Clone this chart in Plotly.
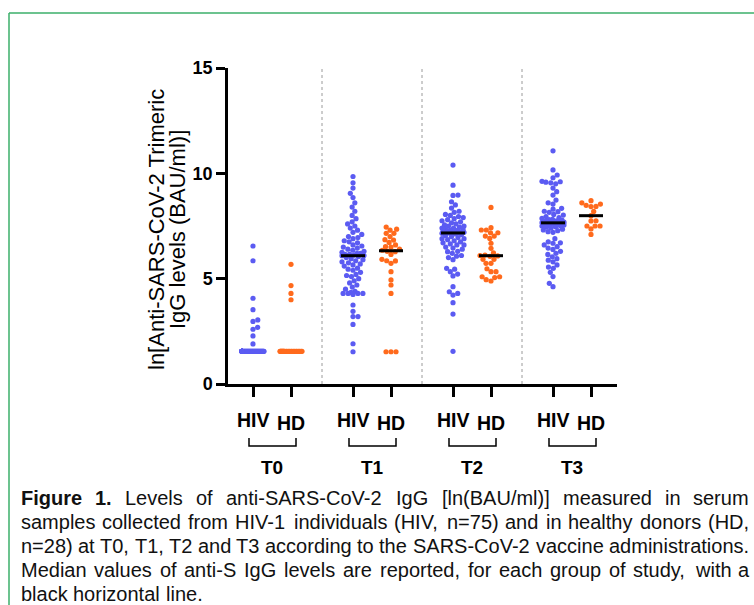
import math
import numpy as np
import plotly.graph_objects as go

# ---------------- data ----------------
timepoints = ["T0", "T1", "T2", "T3"]
groups = ["HIV", "HD"]

T0_HIV = [6.55, 5.85, 4.07, 3.53, 3.04, 2.97, 2.69, 2.6, 2.28, 1.9] + [1.55] * 65
T0_HD = [5.68, 4.67, 4.3, 4.0] + [1.55] * 24
T1_HIV = [9.85, 9.55, 9.3, 9.05, 8.85, 8.6, 8.4, 8.2, 8.0, 7.85, 7.7, 7.6, 7.5, 7.4, 7.3,
          7.2, 7.1, 7.0, 6.95, 6.9, 6.8, 6.75, 6.7, 6.6, 6.55, 6.5, 6.45, 6.4, 6.35, 6.3,
          6.25, 6.2, 6.2, 6.15, 6.15, 6.12, 6.1, 6.09,
          6.05, 6.0, 5.95, 5.9, 5.85, 5.8, 5.75, 5.7, 5.65, 5.6, 5.5, 5.45, 5.4, 5.3, 5.2,
          5.15, 5.1, 5.0, 4.9, 4.8, 4.7, 4.6, 4.5, 4.4, 4.35, 4.3, 4.3, 4.3, 4.3, 4.25,
          3.75, 3.45, 3.2, 3.2, 2.83, 1.91, 1.53]
T1_HD = [7.45, 7.35, 7.3, 7.15, 7.15, 7.0, 6.85, 6.83, 6.72, 6.6, 6.52, 6.5, 6.4, 6.35,
         6.3, 6.28, 6.15, 5.92, 5.85, 5.84, 5.73, 5.33, 4.94, 4.7, 4.3, 1.53, 1.53, 1.53]
T2_HIV = [10.39, 9.44, 8.97, 8.95, 8.65, 8.5, 8.35, 8.2, 8.15, 8.05, 8.0, 7.95, 7.9, 7.85,
          7.8, 7.75, 7.7, 7.65, 7.6, 7.55, 7.5, 7.5, 7.45, 7.4, 7.4, 7.35, 7.35, 7.3, 7.3,
          7.28, 7.25, 7.25, 7.22, 7.2, 7.2, 7.19, 7.18, 7.17,
          7.15, 7.12, 7.1, 7.05, 7.0, 6.95, 6.9, 6.9, 6.85, 6.8, 6.75, 6.7, 6.65, 6.6, 6.6,
          6.5, 6.45, 6.4, 6.3, 6.28, 6.2, 6.1, 6.07, 6.0, 5.9, 5.49, 5.45, 5.33, 5.22, 5.13,
          4.62, 4.38, 4.3, 4.22, 3.86, 3.32, 1.55]
T2_HD = [8.38, 7.42, 7.31, 7.31, 7.18, 7.18, 7.02, 7.02, 6.91, 6.68, 6.44, 6.23, 6.12, 6.1,
         6.08, 6.06, 5.92, 5.92, 5.73, 5.73, 5.47, 5.33, 5.33, 5.09, 5.09, 5.05, 4.95, 4.89]
T3_HIV = [11.07, 10.16, 9.92, 9.79, 9.62, 9.6, 9.58, 9.55, 9.5, 9.3, 9.13, 8.97, 8.73, 8.6,
          8.54, 8.34, 8.3, 8.2, 8.18, 8.15, 8.05, 8.02, 7.95, 7.9, 7.86, 7.82, 7.8, 7.78,
          7.75, 7.73, 7.72, 7.7, 7.7, 7.68, 7.68, 7.67, 7.66, 7.65,
          7.64, 7.62, 7.6, 7.58, 7.55, 7.52, 7.5, 7.47, 7.45, 7.4, 7.35, 7.31, 7.28, 7.23,
          7.2, 6.9, 6.75, 6.7, 6.68, 6.6, 6.52, 6.45, 6.39, 6.3, 6.2, 6.15, 6.04, 5.95, 5.88,
          5.8, 5.65, 5.55, 5.49, 5.3, 5.1, 4.78, 4.62]
T3_HD = [8.7, 8.6, 8.54, 8.48, 8.43, 8.42, 8.19, 7.99, 7.75, 7.74, 7.5, 7.5, 7.5, 7.36, 7.1]

series = {
    ("T0", "HIV"): T0_HIV, ("T0", "HD"): T0_HD,
    ("T1", "HIV"): T1_HIV, ("T1", "HD"): T1_HD,
    ("T2", "HIV"): T2_HIV, ("T2", "HD"): T2_HD,
    ("T3", "HIV"): T3_HIV, ("T3", "HD"): T3_HD,
}

y_ticks = [0, 5, 10, 15]
y_title_lines = ["ln[Anti-SARS-CoV-2 Trimeric", "IgG levels (BAU/ml)]"]
caption_bold = "Figure 1."
caption_lines = [
    "Figure 1. Levels of anti-SARS-CoV-2 IgG [ln(BAU/ml)] measured in serum",
    "samples collected from HIV-1 individuals (HIV, n=75) and in healthy donors (HD,",
    "n=28) at T0, T1, T2 and T3 according to the SARS-CoV-2 vaccine administrations.",
    "Median values of anti-S IgG levels are reported, for each group of study, with a",
    "black horizontal line.",
]

# ---------------- layout constants ----------------
W, H = 754, 605
L, R, T, B = 228, 617, 68, 384          # plot area pixels
colors = {"HIV": "#5B5BF2", "HD": "#FF6A1C"}
group_offset = {"HIV": 0.0, "HD": 0.38}
x_range = [-0.25, 3.64]
ppx = (R - L) / (x_range[1] - x_range[0])
ppy = (B - T) / 15.0
FONT = "Liberation Sans, Arial, sans-serif"

# Arial / Liberation Sans advance widths (per 1000 em) for caption justification
_REG = dict(zip("abcdefghijklmnopqrstuvwxyz",
                [556, 556, 500, 556, 556, 278, 556, 556, 222, 222, 500, 222, 833, 556, 556,
                 556, 556, 333, 500, 278, 556, 500, 722, 500, 500, 500]))
_REG.update(zip("ABCDEFGHIJKLMNOPQRSTUVWXYZ",
                [667, 667, 722, 722, 667, 611, 778, 722, 278, 500, 667, 556, 833, 722, 778,
                 667, 778, 722, 667, 611, 722, 667, 944, 667, 667, 611]))
_REG.update({c: 556 for c in "0123456789"})
_REG.update({" ": 278, ".": 278, ",": 278, "-": 333, "(": 333, ")": 333, "[": 278,
             "]": 278, "/": 278, "=": 584})
_BOLD = dict(_REG)
_BOLD.update({"F": 611, "i": 278, "g": 611, "u": 611, "r": 389, "e": 556, "1": 556, ".": 278})


def tw(s, size, bold=False):
    tab = _BOLD if bold else _REG
    return sum(tab.get(c, 556) for c in s) / 1000.0 * size


def pxx(p):
    return (p - L) / (R - L)


def pxy(p):
    return (B - p) / (B - T)


def swarm(vals, d=5.0, cap=11.0):
    """beeswarm offsets in pixels, capped in width"""
    order = sorted(range(len(vals)), key=lambda i: vals[i])
    placed = []
    xs = [0.0] * len(vals)
    flip = 1
    for i in order:
        y = vals[i] * ppy
        near = [(px, py) for px, py in placed if abs(y - py) < d]
        cands = {0.0}
        for px, py in near:
            dx = math.sqrt(max(d * d - (y - py) ** 2, 0.0))
            cands.add(px + dx)
            cands.add(px - dx)
        cands = sorted(cands, key=lambda c: (round(abs(c), 3), -flip * c))
        best = None
        for c in cands:
            if abs(c) > cap + 1e-9:
                continue
            if all((c - px) ** 2 + (y - py) ** 2 >= d * d - 1e-6 for px, py in near):
                best = c
                break
        if best is None:
            grid = np.linspace(-cap, cap, 45)
            best = max(grid, key=lambda c: min(math.hypot(c - px, y - py) for px, py in near))
        flip = -flip
        placed.append((best, y))
        xs[i] = best
    return xs


fig = go.Figure()

# separators
for k in range(len(timepoints) - 1):
    xs = k + 0.69
    fig.add_shape(type="line", x0=xs, x1=xs, y0=0, y1=15, xref="x", yref="y",
                  line=dict(color="#9a9a9a", width=1, dash="dot"), layer="below")

for ti, tp in enumerate(timepoints):
    for g in groups:
        vals = series[(tp, g)]
        pos = ti + group_offset[g]
        offs = swarm(vals)
        fig.add_trace(go.Scatter(
            x=[pos + o / ppx for o in offs], y=vals, mode="markers",
            marker=dict(color=colors[g], size=5.2, line=dict(width=0)),
            showlegend=False, hoverinfo="y"))
for ti, tp in enumerate(timepoints):
    if ti == 0:
        continue
    for g in groups:
        vals = series[(tp, g)]
        pos = ti + group_offset[g]
        med = float(np.median(vals))
        fig.add_trace(go.Scatter(
            x=[pos - 0.12, pos + 0.12], y=[med, med], mode="lines",
            line=dict(color="black", width=3), showlegend=False, hoverinfo="skip"))

# category labels, brackets, timepoint labels
for ti, tp in enumerate(timepoints):
    xh = ti + group_offset["HIV"]
    xd = ti + group_offset["HD"]
    fig.add_annotation(x=xh, y=pxy(420), xref="x", yref="paper", text="<b>HIV</b>",
                       showarrow=False, yanchor="middle",
                       font=dict(size=19.5, color="black", family=FONT))
    fig.add_annotation(x=xd, y=pxy(423), xref="x", yref="paper", text="<b>HD</b>",
                       showarrow=False, yanchor="middle",
                       font=dict(size=19.5, color="black", family=FONT))
    x0 = xh - 0.04
    x1 = xd + 0.05
    fig.add_shape(type="path", xref="x", yref="paper",
                  path=f"M {x0},{pxy(438)} L {x0},{pxy(446)} L {x1},{pxy(446)} L {x1},{pxy(438)}",
                  line=dict(color="black", width=1.5))
    fig.add_annotation(x=(xh + xd) / 2, y=pxy(467), xref="x", yref="paper",
                       text=f"<b>{tp}</b>", showarrow=False, yanchor="middle",
                       font=dict(size=19, color="black", family=FONT))

# y title (two rotated lines)
for li, (txt, cx) in enumerate(zip(y_title_lines, [156, 177])):
    fig.add_annotation(x=pxx(cx), y=pxy(230), xref="paper", yref="paper", text=txt,
                       textangle=-90, showarrow=False, xanchor="center", yanchor="middle",
                       font=dict(size=22, color="black", family=FONT))

# caption, justified word by word
CAP_SIZE = 20
CAP_X0, CAP_X1 = 20, 748
for li, line in enumerate(caption_lines):
    words = line.split(" ")
    nb = len(caption_bold.split(" ")) if li == 0 else 0
    bolds = [wi < nb for wi in range(len(words))]
    widths = [tw(w, CAP_SIZE, b) for w, b in zip(words, bolds)]
    if li < len(caption_lines) - 1 and len(words) > 1:
        gap = (CAP_X1 - CAP_X0 - sum(widths)) / (len(words) - 1)
    else:
        gap = tw(" ", CAP_SIZE)
    xcur = CAP_X0
    for w, b, wd in zip(words, bolds, widths):
        fig.add_annotation(x=pxx(xcur), y=pxy(498 + 24 * li), xref="paper", yref="paper",
                           text=f"<b>{w}</b>" if b else w, showarrow=False,
                           xanchor="left", yanchor="middle", borderpad=0,
                           font=dict(size=CAP_SIZE, color="#111111", family=FONT))
        xcur += wd + gap

# green frame
fig.add_shape(type="line", xref="paper", yref="paper", x0=pxx(9), x1=pxx(760),
              y0=pxy(13), y1=pxy(13), line=dict(color="#3BAF6A", width=1.5))
fig.add_shape(type="line", xref="paper", yref="paper", x0=pxx(9), x1=pxx(9),
              y0=pxy(13), y1=pxy(610), line=dict(color="#3BAF6A", width=1.5))

tick_x = [ti + group_offset[g] for ti in range(len(timepoints)) for g in groups]
fig.update_layout(
    width=W, height=H, margin=dict(l=L, r=W - R, t=T, b=H - B, pad=0),
    paper_bgcolor="white", plot_bgcolor="white",
    xaxis=dict(range=x_range, showgrid=False, zeroline=False, showline=True,
               linecolor="black", linewidth=2.5, ticks="outside", ticklen=10,
               tickwidth=2.5, tickcolor="black", tickvals=tick_x,
               ticktext=[""] * len(tick_x)),
    yaxis=dict(range=[0, 15], showgrid=False, zeroline=False, showline=True,
               linecolor="black", linewidth=2.5, ticks="outside", ticklen=9,
               tickwidth=2.5, tickcolor="black", tickvals=y_ticks,
               ticktext=[f"<b>{v}</b>" for v in y_ticks],
               tickfont=dict(size=18, color="black", family=FONT)),
)

fig.write_html("out.html", config={"displayModeBar": False},
               post_script="document.body.style.margin='0px';")
